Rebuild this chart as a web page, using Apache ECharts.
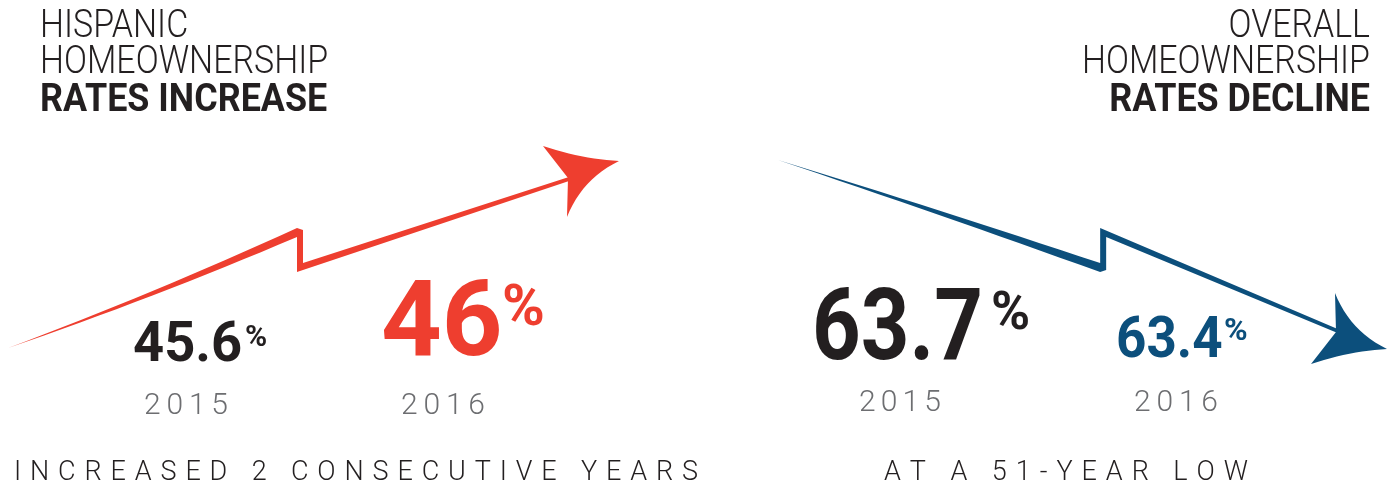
<!DOCTYPE html>
<html>
<head>
<meta charset="utf-8">
<title>Homeownership rates</title>
<script src="https://cdn.jsdelivr.net/npm/echarts@6/dist/echarts.min.js"></script>
<style>
  html, body { margin: 0; padding: 0; background: #fff; }
  #chart { width: 1389px; height: 489px; }
</style>
</head>
<body>
<div id="chart"></div>
<script>
// data
const years = ["2015", "2016"];
const hispanicRates = [45.6, 46];
const overallRates = [63.7, 63.4];
const leftTitle = ["HISPANIC", "HOMEOWNERSHIP", "RATES INCREASE"];
const rightTitle = ["OVERALL", "HOMEOWNERSHIP", "RATES DECLINE"];
const leftNote = "INCREASED 2 CONSECUTIVE YEARS";
const rightNote = "AT A 51-YEAR LOW";

const RED = "#ee3e2f";
const BLUE = "#0c4f7c";
const INK = "#231f20";
const GREY = "#6d6e71";

const measureCtx = document.createElement("canvas").getContext("2d");

// letter-spaced text, spread over a given width
function spacedText(str, x, y, font, width, fill) {
  measureCtx.font = font;
  const chars = str.split("");
  const widths = chars.map((c) => measureCtx.measureText(c).width);
  const total = widths.reduce((a, b) => a + b, 0);
  const gap = (width - total) / (chars.length - 1);
  let cx = x;
  return {
    type: "group",
    children: chars.map((c, i) => {
      const el = {
        type: "text",
        x: cx,
        y: y,
        style: { text: c, font: font, fill: fill, verticalAlign: "middle" },
      };
      cx += widths[i] + gap;
      return el;
    }),
  };
}

function text(str, x, y, font, fill, align, scaleX) {
  return {
    type: "text",
    x: x,
    y: y,
    scaleX: scaleX || 1,
    style: { text: str, font: font, fill: fill, align: align || "left", verticalAlign: "middle" },
  };
}

// quadratic curve sampled into points
function quad(a, c, b, n) {
  const pts = [];
  for (let i = 1; i <= n; i++) {
    const t = i / n;
    const u = 1 - t;
    pts.push([u * u * a[0] + 2 * u * t * c[0] + t * t * b[0], u * u * a[1] + 2 * u * t * c[1] + t * t * b[1]]);
  }
  return pts;
}

// zig-zag arrow from the 2015 point to the 2016 point
function arrowSeries(values, gridIndex, color, kink) {
  return {
    type: "custom",
    xAxisIndex: gridIndex,
    yAxisIndex: gridIndex,
    clip: false,
    silent: true,
    data: values.map((v, i) => [i, v]),
    renderItem: function (params, api) {
      if (params.dataIndex !== values.length - 1) return null;
      const p0 = api.coord([0, values[0]]);
      const p1 = api.coord([values.length - 1, values[values.length - 1]]);
      const W = p1[0] - p0[0];
      const H = Math.abs(p0[1] - p1[1]);
      const s = p1[1] < p0[1] ? 1 : -1;
      const toPx = (p) => [p0[0] + p[0], p0[1] - s * p[1]];

      const kx = kink.x * W;
      const ya = kink.top * H;
      const yb = kink.bottom * H;
      const tip = [W, H];
      const notch = [W - 51, H - 17];
      // first leg bows a little below the straight line
      const bow = kink.bow || 0;
      const shaft = [[0, 0]]
        .concat(quad([0, 0], [kx / 2, ya / 2 - bow], [kx, ya], 16))
        .concat([
          [kx + 6, ya - 2],
          [kx + 6, yb + 9],
          [notch[0] + 4, notch[1] + 2],
          [notch[0] + 4, notch[1] - 2],
          [kx, yb],
          [kx, ya - 9],
        ])
        .concat(quad([kx, ya - 9], [kx / 2, (ya - 9) / 2 - bow], [0, 0], 16));
      const outer = [W - 76, H + 15];
      const inner = [W - 52, H - 56];
      const head = [outer, notch, inner]
        .concat(quad(inner, [W - 37, H - 18], tip, 12))
        .concat(quad(tip, [W - 37, H + 2], outer, 12));

      return {
        type: "group",
        children: [
          { type: "polygon", shape: { points: shaft.map(toPx) }, style: { fill: color } },
          { type: "polygon", shape: { points: head.map(toPx) }, style: { fill: color } },
        ],
      };
    },
  };
}

const chart = echarts.init(document.getElementById("chart"));

const options = {
  backgroundColor: "#fff",
  animation: false,
  grid: [
    { left: 8, top: 161, width: 611, height: 187 },
    { left: 778, top: 160, width: 609, height: 189 },
  ],
  xAxis: [
    { type: "category", data: years, boundaryGap: false, gridIndex: 0, show: false },
    { type: "category", data: years, boundaryGap: false, gridIndex: 1, show: false },
  ],
  yAxis: [
    { type: "value", gridIndex: 0, min: Math.min(...hispanicRates), max: Math.max(...hispanicRates), show: false },
    { type: "value", gridIndex: 1, min: Math.min(...overallRates), max: Math.max(...overallRates), show: false },
  ],
  series: [
    arrowSeries(hispanicRates, 0, RED, { x: 0.473, top: 0.642, bottom: 0.406, bow: 6 }),
    arrowSeries(overallRates, 1, BLUE, { x: 0.529, top: 0.593, bottom: 0.36, bow: 2 }),
  ],
  graphic: [
    // titles
    text(leftTitle[0], 40, 27, "300 39px Roboto", INK, "left", 0.87),
    text(leftTitle[1], 40, 63, "300 39px Roboto", INK, "left", 0.87),
    text(leftTitle[2], 40, 101, "bold 39px Roboto", INK, "left", 0.92),
    text(rightTitle[0], 1370, 27, "300 39px Roboto", INK, "right", 0.87),
    text(rightTitle[1], 1370, 63, "300 39px Roboto", INK, "right", 0.87),
    text(rightTitle[2], 1370, 101, "bold 39px Roboto", INK, "right", 0.92),

    // hispanic values
    text(String(hispanicRates[0]), 133, 347, "bold 56px Roboto", INK, "left", 0.97),
    text("%", 245, 338, "bold 30px Roboto", INK),
    text(String(hispanicRates[1]), 381, 328, "bold 106px Roboto", RED),
    text("%", 502, 310, "bold 58px Roboto", RED),
    spacedText(years[0], 144, 406, "300 30px Roboto", 84, GREY),
    spacedText(years[1], 401, 406, "300 30px Roboto", 84, GREY),

    // overall values
    text(String(overallRates[0]), 812, 334, "bold 100px Roboto", INK, "left", 0.85),
    text("%", 991, 316, "bold 53px Roboto", INK),
    text(String(overallRates[1]), 1116, 343, "bold 57px Roboto", BLUE, "left", 0.93),
    text("%", 1224, 332, "bold 32px Roboto", BLUE),
    spacedText(years[0], 859, 403, "300 30px Roboto", 82, GREY),
    spacedText(years[1], 1134, 403, "300 30px Roboto", 84, GREY),

    // notes
    spacedText(leftNote, 14, 473, "300 27px Roboto", 684, INK),
    spacedText(rightNote, 884, 473, "300 27px Roboto", 364, INK),
  ],
};

chart.setOption(options);
</script>
</body>
</html>
